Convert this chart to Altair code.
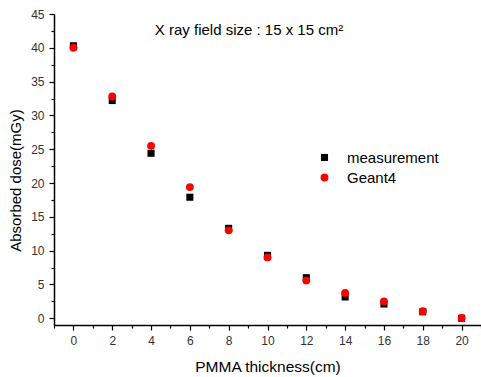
import altair as alt
import pandas as pd

thickness = [0, 2, 4, 6, 8, 10, 12, 14, 16, 18, 20]
measurement = [40.3, 32.2, 24.4, 17.9, 13.3, 9.3, 6.0, 3.15, 2.1, 0.95, 0.0]
geant4 = [40.0, 32.8, 25.5, 19.4, 13.0, 9.0, 5.6, 3.75, 2.5, 1.05, 0.05]
series_names = ["measurement", "Geant4"]
x_tick_values = list(range(-1, 22))
y_tick_values = [i * 2.5 for i in range(0, 19)]

rows = []
for name, vals in zip(series_names, [measurement, geant4]):
    for t, v in zip(thickness, vals):
        rows.append({"thickness": t, "dose": v, "series": name})
df = pd.DataFrame(rows)

FONT = "Liberation Sans"

x_scale = alt.Scale(domain=[-1, 21], nice=False, zero=False)
y_scale = alt.Scale(domain=[-1, 45], nice=False, zero=False)

points = alt.Chart(df).mark_point(filled=True, opacity=1).encode(
    x=alt.X("thickness:Q", scale=x_scale,
            axis=alt.Axis(values=x_tick_values, title="PMMA thickness(cm)",
                          labelExpr="datum.value % 2 == 0 && datum.value >= 0 ? datum.label : ''",
                          tickSize={"condition": {"test": "datum.value % 2 != 0", "value": 3}, "value": 5},
                          labelPadding=5, labelFontSize=12, labelColor="#333333",
                          labelFont=FONT, titleFont=FONT, titleFontSize=15.5,
                          titleFontWeight="normal", titleColor="#000000",
                          titleY=41, titleBaseline="middle",
                          grid=False, domainColor="#000000", tickColor="#000000",
                          domainWidth=1.5, tickWidth=1.2)),
    y=alt.Y("dose:Q", scale=y_scale,
            axis=alt.Axis(values=y_tick_values, title="Absorbed dose(mGy)",
                          labelExpr="datum.value % 5 == 0 ? datum.label : ''",
                          tickSize={"condition": {"test": "datum.value % 5 != 0", "value": 3}, "value": 5},
                          labelPadding=5, labelFontSize=12, labelColor="#333333",
                          labelFont=FONT, titleFont=FONT, titleFontSize=15,
                          titleFontWeight="normal", titleColor="#000000",
                          titleX=-39, titleY=166, titleBaseline="middle", titleAlign="center",
                          grid=False, domainColor="#000000", tickColor="#000000",
                          domainWidth=1.5, tickWidth=1.2)),
    color=alt.Color("series:N", scale=alt.Scale(domain=series_names, range=["#000000", "#ff0000"]),
                    legend=alt.Legend(title=None, orient="none", legendX=263, legendY=136,
                                      labelFont=FONT, labelFontSize=15, labelColor="#000000",
                                      labelOffset=15, rowPadding=4, padding=0)),
    shape=alt.Shape("series:N", scale=alt.Scale(domain=series_names, range=["square", "circle"])),
    size=alt.Size("series:N", scale=alt.Scale(domain=series_names, range=[50, 62])),
)

title_df = pd.DataFrame({"text": ["X ray field size : 15 x 15 cm²"]})
title = alt.Chart(title_df).mark_text(font=FONT, fontSize=15, color="#000000", align="center",
                                      baseline="middle").encode(
    x=alt.value(195), y=alt.value(16), text="text:N")

chart = alt.layer(points, title).properties(
    width=427, height=311,
    autosize=alt.AutoSizeParams(type="none"),
    padding={"left": 54, "top": 14, "right": 0, "bottom": 52},
    background="#ffffff",
).configure_view(stroke=None)

chart.save("out.html", embed_options={"renderer": "svg", "actions": False})
